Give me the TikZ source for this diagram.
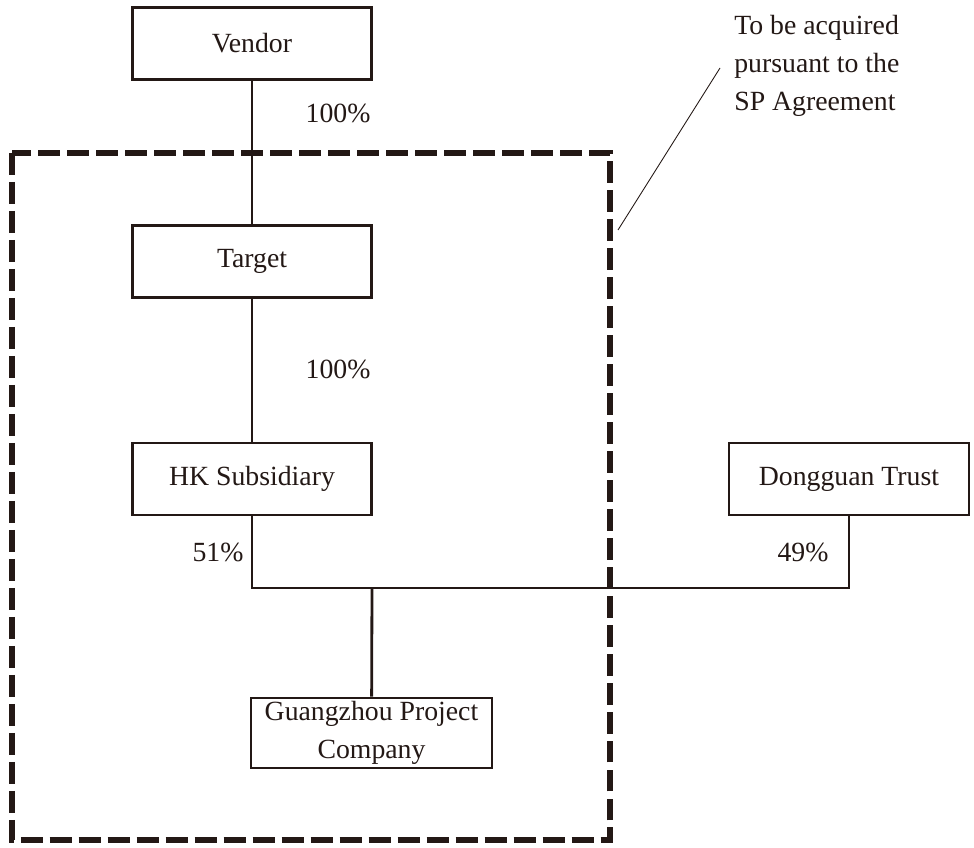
\documentclass[tikz,border=0pt]{standalone}
\usepackage{fontspec}
\setmainfont{Liberation Serif}
\definecolor{ink}{RGB}{35,24,21}
\usetikzlibrary{positioning}

\begin{document}
\begin{tikzpicture}[x=0.02cm,y=-0.02cm,
        every node/.style={font=\fontsize{15.8pt}{21.5pt}\selectfont,text=ink},
        firm/.style={draw=ink,line width=1.6pt,inner sep=0pt,minimum width=4.78cm,minimum height=1.44cm,align=center},
        link/.style={draw=ink,line width=1.6pt},
        acqbox/.style={draw=ink,line width=3pt,dash pattern=on 12.5pt off 4pt}]
        \useasboundingbox (0,0) rectangle (974,848);
        % shareholding boxes
        \node[firm] (vendor) at (252,43.5) {Vendor};
        \node[firm] (target) at (252,261.5) {Target};
        \node[firm] (hk) at (252,479) {HK Subsidiary};
        \node[firm,minimum width=4.8cm] (dg) at (849,479) {Dongguan Trust};
        \node[firm,minimum width=4.82cm,minimum height=1.4cm] (gz) at (371.5,733) {Guangzhou Project\\Company};
        \coordinate (bar) at (372,588);
        \draw[link] (vendor) -- (target);
        \draw[link] (target) -- (hk);
        \draw[link] (hk.south) |- (bar) -| (dg.south);
        \draw[link] (bar) -- (gz);
        \node (p1) at (338,113) {100\%};
        \node (p2) at (338,369) {100\%};
        \node (p3) at (218,552) {51\%};
        \node (p4) at (803,552) {49\%};
        % acquired group
        \draw[acqbox] (12,153) rectangle (610,840);
        \coordinate (tip) at (618,230);
        \coordinate (tail) at (720,68);
        \draw[ink,line width=0.5pt] (tip) -- (tail);
        \node[anchor=north west,inner sep=0pt,align=left] (note) at (734,15) {To be acquired\\pursuant to the\\SP Agreement};
\end{tikzpicture}
\end{document}
